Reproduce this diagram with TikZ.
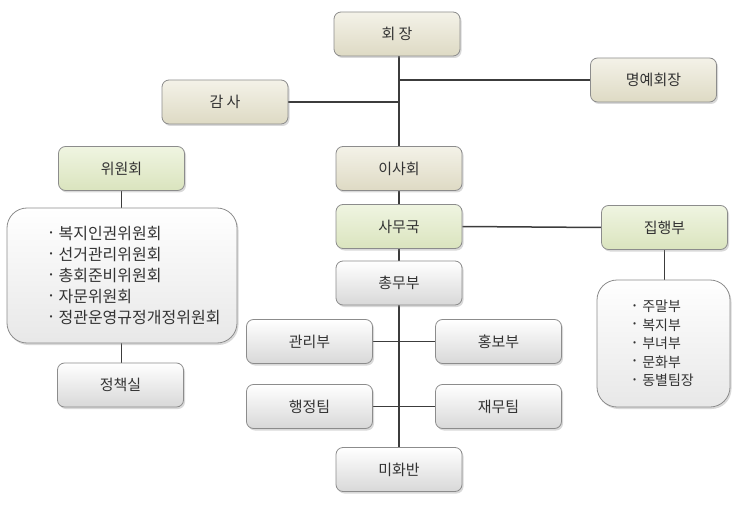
\documentclass[tikz,border=0pt]{standalone}
\usepackage{fontspec}
\setmainfont{Noto Sans CJK KR}
\usepackage{tikz}
\usetikzlibrary{shadows,backgrounds}
\usepackage{xcolor}

\definecolor{txtgray}{HTML}{333333}
\definecolor{linegray}{HTML}{3C3C3C}
\definecolor{beigeL}{HTML}{F9F8F1}
\definecolor{beigeD}{HTML}{DEDAC4}
\definecolor{greenL}{HTML}{F5F9EA}
\definecolor{greenD}{HTML}{DAE4BE}
\definecolor{whiteD}{HTML}{D8D8D8}

\newcommand{\itemdot}{\raisebox{3.5pt}{\fontsize{9}{9}\selectfont •}\hspace{6pt}}
\newcommand{\listindent}{\hspace*{26pt}}

\begin{document}
\begin{tikzpicture}[
  x=1pt, y=-1pt,
  orgbox/.style={
    rectangle, rounded corners=7pt, draw=black!45, line width=0.8pt,
    minimum width=126pt, minimum height=44pt,
    font=\fontsize{15}{18}\selectfont, text=txtgray,
    drop shadow={shadow xshift=1.5pt, shadow yshift=-2pt, opacity=.3}
  },
  beigebox/.style={orgbox, top color=beigeL!80!beigeD, middle color=beigeL, bottom color=beigeD},
  greenbox/.style={orgbox, top color=greenL!80!greenD, middle color=greenL, bottom color=greenD},
  whitebox/.style={orgbox, top color=white, middle color=white, bottom color=whiteD},
  listbox/.style={
    rectangle, rounded corners=20pt, draw=black!45, line width=0.8pt,
    top color=white, bottom color=whiteD!60, text=txtgray, align=left,
    drop shadow={shadow xshift=1.5pt, shadow yshift=-2pt, opacity=.3}
  },
  link/.style={draw=linegray, line width=1.5pt}
]
\useasboundingbox (0,0) rectangle (741,513);

% top level
\node[beigebox] (hoejang)  at (397,34)    {회 장};
\node[beigebox] (myeongye) at (653.5,80)  {명예회장};
\node[beigebox] (gamsa)    at (225,102)   {감 사};
\node[beigebox] (isahoe)   at (399,168.5) {이사회};

% committees
\node[greenbox] (wiwonhoe) at (121.5,168.5) {위원회};
\node[listbox, minimum width=230pt, minimum height=135pt,
      font=\fontsize{16}{21}\selectfont] (wiwonlist) at (122,275.5) {
  \listindent\itemdot 복지인권위원회\\
  \listindent\itemdot 선거관리위원회\\
  \listindent\itemdot 총회준비위원회\\
  \listindent\itemdot 자문위원회\\
  \listindent\itemdot 정관운영규정개정위원회};
\node[whitebox] (jeongchaek) at (120.5,385) {정책실};

% secretariat
\node[greenbox] (samuguk)  at (399,226.5) {사무국};
\node[greenbox] (jiphaeng) at (664.5,227.5) {집행부};
\node[listbox, minimum width=133pt, minimum height=127pt,
      font=\fontsize{14}{18.5}\selectfont] (jiphaenglist) at (663.5,343.5) {
  \itemdot 주말부\\
  \itemdot 복지부\\
  \itemdot 부녀부\\
  \itemdot 문화부\\
  \itemdot 동별팀장};

% departments
\node[whitebox] (chongmu) at (399,283)     {총무부};
\node[whitebox] (gwalli)  at (309.5,341.5) {관리부};
\node[whitebox] (hongbo)  at (498.5,341.5) {홍보부};
\node[whitebox] (haengjeong) at (309.5,406.5) {행정팀};
\node[whitebox] (jaemu)   at (498.5,406.5) {재무팀};
\node[whitebox] (mihwa)   at (399,469.5)   {미화반};

\begin{scope}[on background layer]
  \draw[link] (hoejang.south -| mihwa.north) -- (mihwa.north);
  \draw[link] (myeongye.west) -- (myeongye.west -| mihwa.north);
  \draw[link] (gamsa.east) -- (gamsa.east -| mihwa.north);
  \draw[link] (samuguk.east) -- (jiphaeng.west);
  \draw[link] (jiphaeng.south) -- (jiphaeng.south |- jiphaenglist.north);
  \draw[link] (wiwonhoe.south) -- (wiwonhoe.south |- wiwonlist.north);
  \draw[link] (wiwonhoe.south |- wiwonlist.south) -- (jeongchaek.north -| wiwonhoe.south);
  \draw[link] (gwalli.east) -- (hongbo.west);
  \draw[link] (haengjeong.east) -- (jaemu.west);
\end{scope}

\end{tikzpicture}
\end{document}
